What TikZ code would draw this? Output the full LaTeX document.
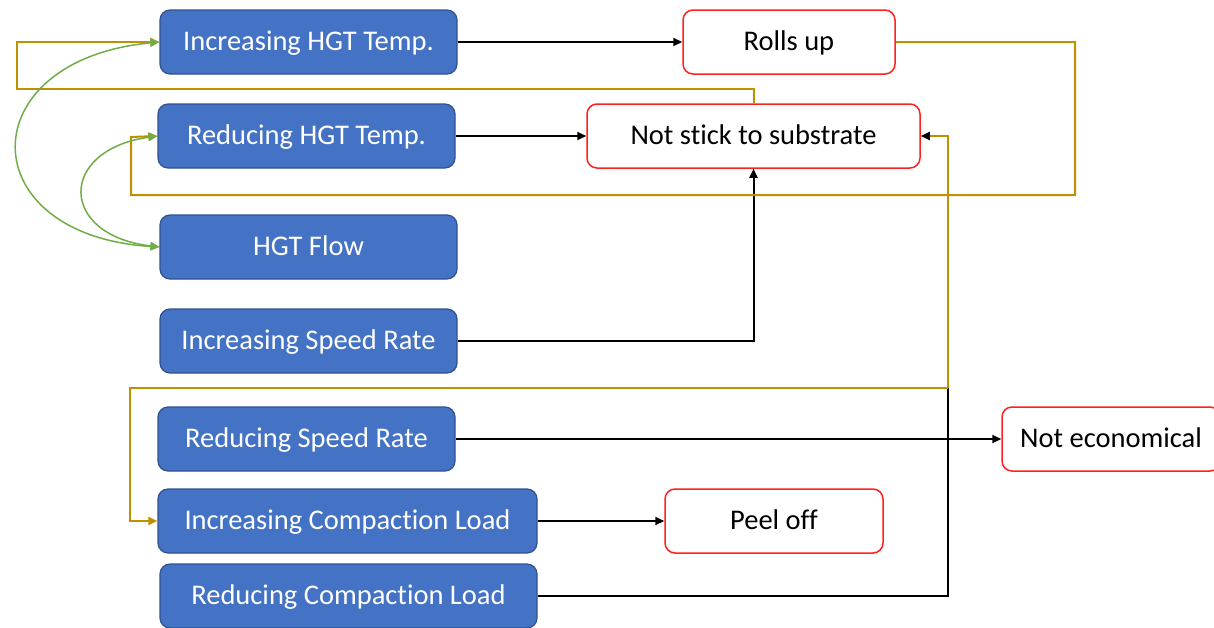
\documentclass[tikz,border=0pt]{standalone}
\usepackage{fontspec}
\setmainfont[Ligatures=NoCommon]{Carlito}
\usetikzlibrary{arrows.meta}
\definecolor{bluefill}{HTML}{4472C4}
\definecolor{blueline}{HTML}{2F528F}
\definecolor{redline}{HTML}{FF2020}
\definecolor{yel}{HTML}{BF9000}
\definecolor{grn}{HTML}{70AD47}
\begin{document}
\begin{tikzpicture}[x=1pt,y=-1pt,
  bluebox/.style={draw=blueline, line width=1.2pt, fill=bluefill, rounded corners=10pt, minimum height=64pt, inner sep=0pt, text height=22pt, text depth=5pt, text=white, font=\fontsize{28.5}{32}\selectfont},
  redbox/.style={draw=redline, line width=1.5pt, fill=white, rounded corners=10pt, minimum height=64pt, inner sep=0pt, text height=22pt, text depth=5pt, text=black, font=\fontsize{28.5}{32}\selectfont},
  blk/.style={draw=black, line width=2pt, -{Triangle[length=9pt,width=8pt]}},
  blkline/.style={draw=black, line width=2pt},
  yelarr/.style={draw=yel, line width=2pt, -{Triangle[length=9pt,width=8pt]}},
  grnarr/.style={draw=grn, line width=1.5pt, {Triangle[length=9pt,width=8pt]}-{Triangle[length=9pt,width=8pt]}}
]
\useasboundingbox (0,0) rectangle (1214,627);
% blue boxes
\node[bluebox, minimum width=297pt] (iht) at (308.5,42) {Increasing HGT Temp.};
\node[bluebox, minimum width=297pt] (rht) at (306.5,136) {Reducing HGT Temp.};
\node[bluebox, minimum width=297pt] (flow) at (308.5,247) {HGT Flow};
\node[bluebox, minimum width=297pt] (isr) at (308.5,341) {Increasing Speed Rate};
\node[bluebox, minimum width=297pt] (rsr) at (306.5,439) {Reducing Speed Rate};
\node[bluebox, minimum width=379pt] (icl) at (347.5,521) {Increasing Compaction Load};
\node[bluebox, minimum width=377pt] (rcl) at (348.5,596) {Reducing Compaction Load};
% red boxes
\node[redbox, minimum width=212pt] (ru) at (789,42) {Rolls up};
\node[redbox, minimum width=333pt] (ns) at (753.5,136) {Not stick to substrate};
\node[redbox, minimum width=218pt] (ne) at (1111,439) {Not economical};
\node[redbox, minimum width=218pt] (po) at (774,521) {Peel off};
% black connectors
\draw[blk] (iht.east) -- (ru.west);
\draw[blk] (rht.east) -- (ns.west);
\draw[blk] (isr.east) -| (ns.south);
\draw[blk] (rsr.east) -- (ne.west);
\draw[blk] (icl.east) -- (po.west);
\coordinate (j) at (948,388);
\draw[blkline] (rcl.east) -| (j);
% yellow connectors
\draw[yelarr] (ns.north) |- (17,89) |- (iht.west);
\draw[yelarr] (ru.east) -| (1075,195) -| (131,137) -- (rht.west);
\draw[yel, line width=2pt, -{Triangle[length=9pt,width=8pt,color=black]}] (j) |- (ns.east);
\draw[yelarr] (j) -- (130,388) |- (icl.west);
% green curves
\draw[grnarr] (iht.west) .. controls (-30,60) and (-30,235) .. (flow.west);
\draw[grnarr] (rht.west) .. controls (58,150) and (58,235) .. (flow.west);
\end{tikzpicture}
\end{document}
